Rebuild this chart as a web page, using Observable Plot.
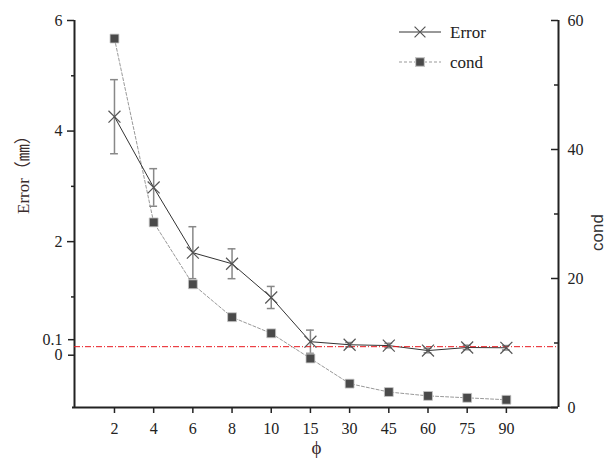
<!DOCTYPE html>
<html>
<head>
<meta charset="utf-8">
<script src="https://cdn.jsdelivr.net/npm/d3@7"></script>
<script src="https://cdn.jsdelivr.net/npm/@observablehq/plot@0.6"></script>
<style>
  body { margin: 0; background: #fff; }
  #wrap { position: relative; width: 608px; height: 464px; }
  #legend { position: absolute; left: 0; top: 0; }
</style>
</head>
<body>
<div id="wrap"></div>
<script>
// ---- data ----
const phi = ["2", "4", "6", "8", "10", "15", "30", "45", "60", "75", "90"];
const errorVals = [4.26, 2.98, 1.80, 1.60, 0.99, 0.19, 0.135, 0.12, 0.03, 0.085, 0.08];
const errorDev  = [0.67, 0.34, 0.47, 0.27, 0.20, 0.21, 0.04, 0.04, 0.04, 0.04, 0.04];
const condVals  = [57.2, 28.7, 19.1, 14.0, 11.5, 7.6, 3.7, 2.4, 1.8, 1.5, 1.2];
const leftMajor = [2, 4, 6];
const leftZero = [0];
const leftMinor = [1, 3, 5];
const refLine = 0.1;
const condMajor = [0, 20, 40, 60];
const condMinor = [10, 30, 50];

const leftDomain = [-1, 6];
const condDomain = [0, 60];
// map cond values onto the left (shared) y scale
const toLeft = c => leftDomain[0] + (c - condDomain[0]) * (leftDomain[1] - leftDomain[0]) / (condDomain[1] - condDomain[0]);

const rows = phi.map((p, i) => ({
  i, p, err: errorVals[i], lo: errorVals[i] - errorDev[i], hi: errorVals[i] + errorDev[i],
  cond: toLeft(condVals[i])
}));

const xDomain = [-1.02, 11.33];
const serif = "'Liberation Serif', 'DejaVu Serif', serif";
const titleFont = "'Liberation Serif', 'Noto Sans CJK SC', serif";
const axisColor = "#222";
const fmt = d => String(d);

const chart = Plot.plot({
  width: 608,
  height: 464,
  marginLeft: 74,
  marginRight: 50,
  marginTop: 20,
  marginBottom: 57,
  style: { fontFamily: serif, fontSize: "16px", color: axisColor, background: "#fff", overflow: "visible" },
  x: { domain: xDomain, axis: null },
  y: { domain: leftDomain, axis: null },
  marks: [
    // bottom axis
    Plot.axisX(d3.range(phi.length), { anchor: "bottom", tickSize: 6, tickPadding: 9, tickFormat: i => phi[i], stroke: axisColor, strokeWidth: 1.5, fontSize: 16, label: null }),
    // left axis
    Plot.axisY(leftMajor, { anchor: "left", tickSize: 7, tickPadding: 5, tickFormat: fmt, stroke: axisColor, strokeWidth: 1.5, fontSize: 16, label: null }),
    Plot.axisY(leftZero, { anchor: "left", tickSize: 6, tickPadding: 6, dy: 3, tickFormat: fmt, stroke: axisColor, strokeWidth: 1.5, fontSize: 16, label: null }),
    Plot.axisY(leftMinor, { anchor: "left", tickSize: 3, tickFormat: () => "", stroke: axisColor, strokeWidth: 1.5, label: null }),
    Plot.axisY([refLine], { anchor: "left", tickSize: 6, tickPadding: 6, dy: -7, tickFormat: () => "0.1", stroke: axisColor, strokeWidth: 1.5, fontSize: 16, label: null }),
    // right axis labels
    Plot.axisY(condMajor.map(toLeft), { anchor: "right", tickSize: 0, tickPadding: 9, tickFormat: (d, k) => String(condMajor[k]), fontSize: 16, label: null }),
    // right axis inward ticks
    Plot.ruleY(condMajor.map(toLeft), { stroke: axisColor, strokeWidth: 1.5, insetLeft: 477 }),
    Plot.ruleY(condMinor.map(toLeft), { stroke: axisColor, strokeWidth: 1.5, insetLeft: 480 }),
    // axis lines
    Plot.ruleY([leftDomain[0]], { stroke: axisColor, strokeWidth: 2, insetLeft: -2 }),
    Plot.ruleX([xDomain[0]], { stroke: axisColor, strokeWidth: 2 }),
    Plot.ruleX([xDomain[1]], { stroke: axisColor, strokeWidth: 2 }),
    // cond series
    Plot.line(rows, { x: "i", y: "cond", stroke: "#999", strokeWidth: 1, strokeDasharray: "3,2" }),
    // error bars
    Plot.ruleX(rows, { x: "i", y1: "lo", y2: "hi", stroke: "#888", strokeWidth: 1.5 }),
    Plot.ruleY(rows, { y: "lo", x1: d => d.i - 0.1, x2: d => d.i + 0.1, stroke: "#888", strokeWidth: 1.5 }),
    Plot.ruleY(rows, { y: "hi", x1: d => d.i - 0.1, x2: d => d.i + 0.1, stroke: "#888", strokeWidth: 1.5 }),
    // error line
    Plot.line(rows, { x: "i", y: "err", stroke: "#333", strokeWidth: 1 }),
    // reference line
    Plot.ruleY([refLine], { stroke: "#e8191f", strokeWidth: 1, strokeDasharray: "6,2,1,2" }),
    // markers
    Plot.dot(rows, { x: "i", y: "err", symbol: "times", r: 5.5, stroke: "#555", strokeWidth: 1.2 }),
    Plot.dot(rows, { x: "i", y: "cond", symbol: "square", r: 5, fill: "#4a4a4a", stroke: "#c8c8c8", strokeWidth: 0.8 }),
    // axis titles
    Plot.text(["Error（㎜）"], { frameAnchor: "left", dx: -51, rotate: -90, fontSize: 17, fill: "#3a2c2c", fontFamily: titleFont }),
    Plot.text(["cond"], { frameAnchor: "right", dx: 39, rotate: -90, fontSize: 17, fill: "#333", fontFamily: "'Liberation Sans', 'DejaVu Sans', sans-serif" }),
    Plot.text(["ϕ"], { frameAnchor: "bottom", dy: 46, fontSize: 19, fill: "#3a2c2c", fontFamily: serif })
  ]
});

const wrap = document.getElementById("wrap");
wrap.appendChild(chart);

// legend overlay
const legendSeries = [
  { name: "Error", y: 32, dash: null, stroke: "#333", symbol: d3.symbolTimes, fill: "none", mstroke: "#555" },
  { name: "cond",  y: 62, dash: "3,2", stroke: "#999", symbol: d3.symbolSquare, fill: "#4a4a4a", mstroke: "#c8c8c8" }
];
const leg = d3.select(wrap).append("svg").attr("id", "legend").attr("width", 608).attr("height", 90)
  .style("font-family", serif);
for (const s of legendSeries) {
  const g = leg.append("g").attr("transform", `translate(0,${s.y})`);
  g.append("line").attr("x1", 399).attr("x2", 441).attr("stroke", s.stroke).attr("stroke-width", 1)
    .attr("stroke-dasharray", s.dash);
  const size = Math.PI * 5 * 5;
  g.append("path").attr("d", d3.symbol(s.symbol, size)()).attr("transform", "translate(420,0)")
    .attr("fill", s.fill).attr("stroke", s.mstroke).attr("stroke-width", 1.2);
  g.append("text").attr("x", 450).attr("y", 0).attr("dy", "0.35em").attr("font-size", 17).attr("fill", "#222").text(s.name);
}
</script>
</body>
</html>
